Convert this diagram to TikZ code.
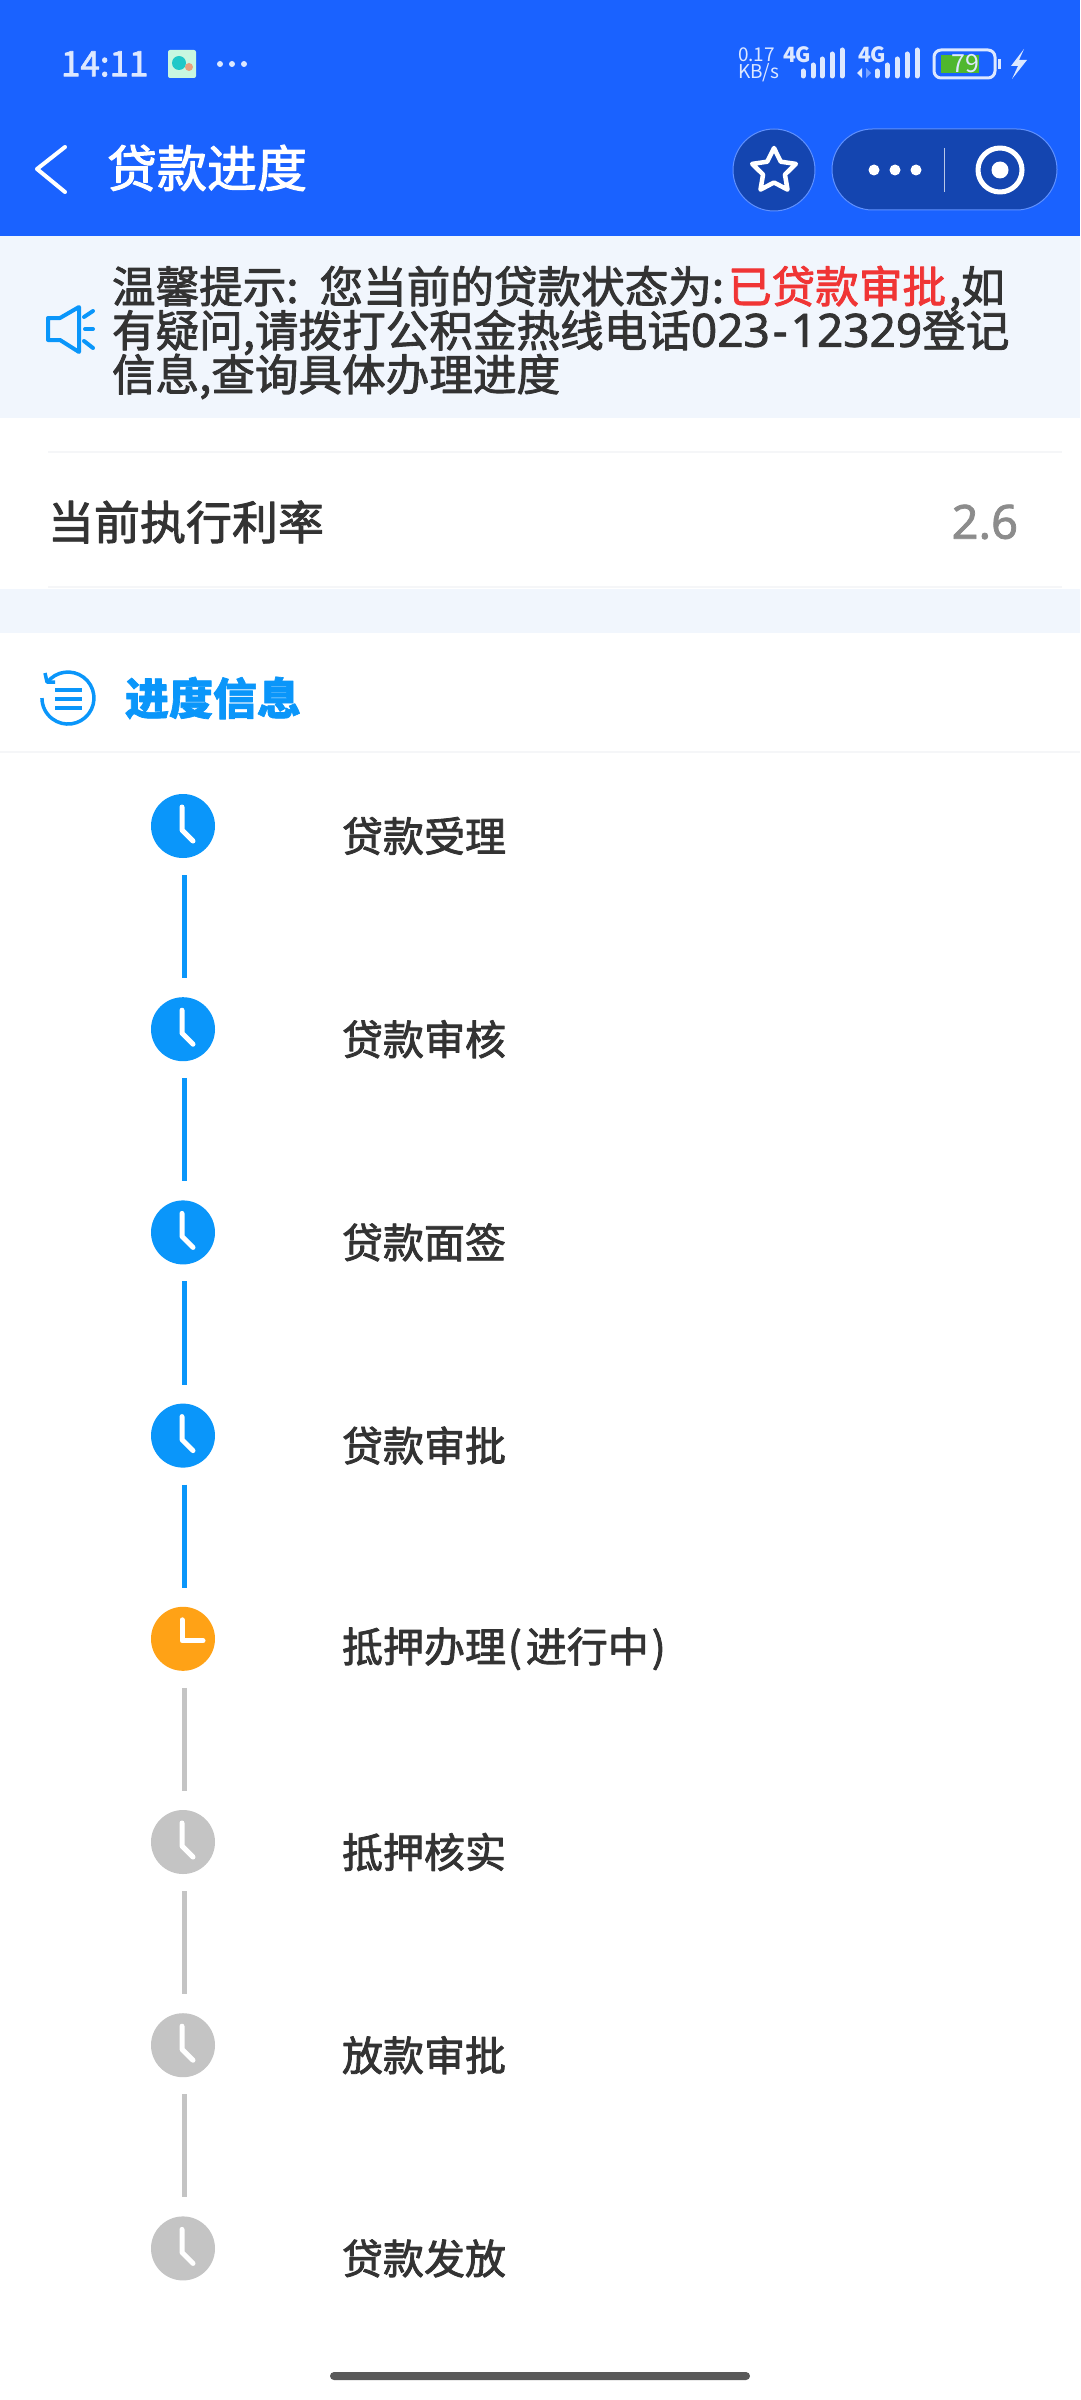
\documentclass[tikz,border=0pt]{standalone}
\usepackage{fontspec}
\setmainfont{Noto Sans CJK SC}
\newfontfamily\medcjk[FakeBold=2]{Noto Sans CJK SC}
\newfontfamily\medlat[FakeBold=1.6]{Noto Sans}
\newfontfamily\headcjk[BoldFeatures={FakeBold=1.5}]{Noto Sans CJK SC}
\usetikzlibrary{arrows,arrows.meta,positioning,shapes.geometric}
\lineskiplimit=-100pt

\definecolor{barblue}{HTML}{1A62FF}
\definecolor{btnblue}{HTML}{1445B0}
\definecolor{paleblue}{HTML}{F1F6FD}
\definecolor{rulegray}{HTML}{F5F6F8}
\definecolor{stepblue}{HTML}{0A96FA}
\definecolor{steporange}{HTML}{FFA216}
\definecolor{stepgray}{HTML}{C4C4C4}
\definecolor{inkgray}{HTML}{333333}
\definecolor{statuswhite}{HTML}{DDE8FF}
\definecolor{alertred}{HTML}{F03535}
\definecolor{batterygreen}{HTML}{4FB72E}
\definecolor{appmint}{HTML}{C8F7E0}
\definecolor{appteal}{HTML}{20C8C8}
\definecolor{appsalmon}{HTML}{E8A080}

\begin{document}
\begin{tikzpicture}[
        x=1pt,
        y=-1pt,
        node distance=203.2pt, % between two clock circles
        line join=round]

        \tikzstyle{every node}=[
            inner sep=0pt,
            outer sep=0pt,
            text=inkgray
        ]
        \tikzset{stepdone/.style={circle, fill=stepblue, minimum size=64pt}}
        \tikzset{stepnow/.style={circle, fill=steporange, minimum size=64pt}}
        \tikzset{steptodo/.style={circle, fill=stepgray, minimum size=64pt}}
        \tikzset{steplabel/.style={font=\medcjk\fontsize{41}{48}\selectfont, right=127pt of #1, yshift=-10pt}}
        \tikzset{linkdone/.style={draw=stepblue, line width=5pt, shorten <=17pt, shorten >=19pt}}
        \tikzset{linktodo/.style={draw=stepgray, line width=5pt, shorten <=17pt, shorten >=19pt}}
        \tikzset{hand/.style={draw=white, line width=5pt, line cap=round}}
        \tikzset{thinrule/.style={draw=rulegray, line width=1.2pt}}
        \tikzset{statusbar/.style={draw=statuswhite, line width=5pt, line cap=round}}
        \tikzset{bluepen/.style={draw=stepblue, line width=4pt, line cap=round}}

        \useasboundingbox (0,0) rectangle (1080,2400);
        \fill[white] (0,0) rectangle (1080,2400);

        % top bar
        \fill[barblue] (0,0) rectangle (1080,236);
        \node[anchor=west, text=statuswhite, font=\medcjk\fontsize{35}{40}\selectfont] (clock) at (61,64) {14:11};
        \fill[appmint, rounded corners=2pt] (168,50) rectangle (196,78);
        \fill[appteal] (179,63) circle (7);
        \fill[appsalmon] (189,67) circle (4);
        \foreach \dx in {220,232,244} \fill[statuswhite] (\dx,64) circle (3);
        \node[anchor=west, text=statuswhite, font=\fontsize{19}{19}\selectfont] (speed) at (738,55) {0.17};
        \node[anchor=west, text=statuswhite, font=\fontsize{19}{19}\selectfont] (unit) at (738,73) {KB/s};
        \node[anchor=west, text=statuswhite, font=\bfseries\fontsize{21}{21}\selectfont] (simone) at (783,55) {4G};
        \node[anchor=west, text=statuswhite, font=\bfseries\fontsize{21}{21}\selectfont] (simtwo) at (858,55) {4G};
        \foreach \bx/\bh in {803/5,813/11,822/17,832/22,842/26,877/5,887/11,897/17,907/22,917/26}
            \draw[statusbar] (\bx,76) -- (\bx,76-\bh);
        \fill[statuswhite] (857,73) -- (862,68) -- (862,78) -- cycle;
        \fill[barblue!60!white] (871,73) -- (866,68) -- (866,78) -- cycle;
        \draw[draw=statuswhite, line width=3pt, rounded corners=7pt] (934,50) rectangle (995,78);
        \fill[batterygreen] (941,55) rectangle (979,73);
        \node[text=statuswhite, font=\fontsize{25}{25}\selectfont] (battery) at (965,64) {79};
        \fill[statuswhite] (998,59) rectangle (1001,69);
        \fill[statuswhite] (1024,49) -- (1011,66) -- (1018,66) -- (1012,79) -- (1027,60) -- (1019,60) -- cycle;

        % title row
        \draw[draw=white, line width=4pt, line cap=round] (65,147) -- (37,169) -- (65,192);
        \node[anchor=west, text=white, font=\medcjk\fontsize{50}{52}\selectfont] (title) at (107,168) {贷款进度};
        \fill[btnblue, draw=barblue!70!white, line width=1pt] (774,170) circle (41);
        \node[star, star points=5, star point ratio=2, draw=white, line width=4.5pt, minimum size=46pt] (favstar) at (774,171) {};
        \fill[btnblue, draw=barblue!70!white, line width=1pt, rounded corners=40.5pt] (832,129) rectangle (1057,210);
        \foreach \dx in {874,895,916} \fill[white] (\dx,170) circle (5.5);
        \draw[draw=white!70!btnblue, line width=1pt] (944,148) -- (944,192);
        \draw[draw=white, line width=5pt] (1000,170) circle (22);
        \fill[white] (1000,170) circle (8.5);

        % notice
        \fill[paleblue] (0,236) rectangle (1080,418);
        \draw[bluepen] (48,318) -- (60,318) -- (79,307) -- (79,352) -- (60,340) -- (48,340) -- cycle;
        \draw[bluepen] (84,317) -- (93,311);
        \draw[bluepen] (85,329) -- (93,329);
        \draw[bluepen] (84,341) -- (93,348);
        \node[anchor=west, align=left, font=\medcjk\fontsize{43.6}{44}\selectfont] (notice) at (112,332.5)
            {温馨提示:\hspace{8pt} 您当前的贷款状态为:\hspace{4pt}\textcolor{alertred}{已贷款审批}\hspace{3pt},如\\
             有疑问,请拨打公积金热线电话{\medlat\fontsize{46}{44}\selectfont 023\hspace{3pt}-\hspace{3pt}12329}登记\\
             信息,查询具体办理进度};

        % rate row
        \draw[thinrule] (48,452) -- (1062,452);
        \node[anchor=west, font=\medcjk\fontsize{46}{50}\selectfont] (rate) at (48,522) {当前执行利率};
        \node[anchor=east, text=black!45, font=\medlat\fontsize{47}{50}\selectfont] (ratevalue) at (1018,522) {2.6};
        \draw[thinrule] (48,587) -- (1062,587);
        \fill[paleblue] (0,589) rectangle (1080,633);

        % heading
        \draw[draw=stepblue, line width=3.5pt] (47.2,682.4) arc (217:540:26);
        \draw[draw=stepblue, line width=3.5pt] (45,673) -- (47,682) -- (55,682);
        \foreach \ly in {690,699,708} \draw[draw=stepblue, line width=3.5pt] (55,\ly) -- (82,\ly);
        \node[anchor=west, text=stepblue, font=\headcjk\bfseries\fontsize{44}{46}\selectfont] (heading) at (125,698) {进度信息};
        \draw[thinrule] (0,752) -- (1080,752);

        % steps
        \node[stepdone] (c1) at (183,826) {};
        \node[stepdone] (c2) [below of=c1] {};
        \node[stepdone] (c3) [below of=c2] {};
        \node[stepdone] (c4) [below of=c3] {};
        \node[stepnow] (c5) [below of=c4] {};
        \node[steptodo] (c6) [below of=c5] {};
        \node[steptodo] (c7) [below of=c6] {};
        \node[steptodo] (c8) [below of=c7] {};
        \node[steplabel=c1] (t1) {贷款受理};
        \node[steplabel=c2] (t2) {贷款审核};
        \node[steplabel=c3] (t3) {贷款面签};
        \node[steplabel=c4] (t4) {贷款审批};
        \node[steplabel=c5] (t5) {抵押办理\hspace{2pt}(\hspace{4pt}进行中\hspace{3pt})};
        \node[steplabel=c6] (t6) {抵押核实};
        \node[steplabel=c7] (t7) {放款审批};
        \node[steplabel=c8] (t8) {贷款发放};
        \foreach \n in {1,2,3,4,6,7,8}
            \draw[hand] (c\n) ++(-1,-19) -- ++(0,23) -- ++(11,11);
        \draw[hand] (c5) ++(-1,-19) -- ++(0,21) -- ++(21,0);
        \path
        ([xshift=1.5pt]c1.south) edge[linkdone] ([xshift=1.5pt]c2.north)
        ([xshift=1.5pt]c2.south) edge[linkdone] ([xshift=1.5pt]c3.north)
        ([xshift=1.5pt]c3.south) edge[linkdone] ([xshift=1.5pt]c4.north)
        ([xshift=1.5pt]c4.south) edge[linkdone] ([xshift=1.5pt]c5.north)
        ([xshift=1.5pt]c5.south) edge[linktodo] ([xshift=1.5pt]c6.north)
        ([xshift=1.5pt]c6.south) edge[linktodo] ([xshift=1.5pt]c7.north)
        ([xshift=1.5pt]c7.south) edge[linktodo] ([xshift=1.5pt]c8.north)
        ;

        % home bar
        \fill[black!65, rounded corners=4pt] (330,2372) rectangle (750,2380);
    \end{tikzpicture}
\end{document}
